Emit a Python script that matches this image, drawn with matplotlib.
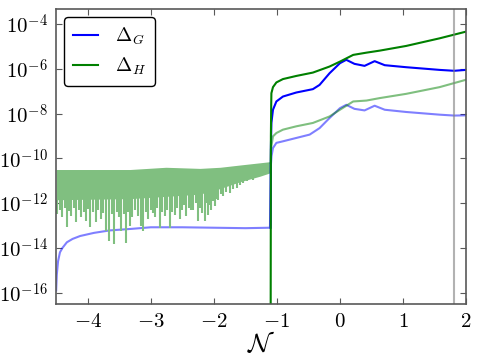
import numpy as np
import matplotlib
matplotlib.use('Agg')
import matplotlib.pyplot as plt
from matplotlib.ticker import FixedLocator, FuncFormatter, NullLocator

plt.rcParams['mathtext.fontset'] = 'cm'
plt.rcParams['font.family'] = 'serif'

# values, y given as log10
# Delta_G (dark blue), after the jump at N ~ -1.1
n_g = [-1.10, -1.095, -1.087, -1.062, -1.008, -0.904, -0.692, -0.429, -0.323, -0.165,
       0.0, 0.10, 0.23, 0.39, 0.55, 0.71, 1.05, 1.58, 1.81, 2.0]
log_g = [-13.1, -9.5, -8.42, -7.83, -7.46, -7.24, -7.06, -6.91, -6.72, -6.2,
         -5.75, -5.60, -5.78, -5.87, -5.66, -5.84, -5.93, -6.05, -6.09, -6.05]

# Delta_H (dark green)
n_h = [-1.10, -1.095, -1.090, -1.087, -1.062, -1.008, -0.904, -0.692, -0.429, -0.165,
       0.0, 0.21, 0.42, 0.63, 1.05, 1.58, 2.0]
log_h = [-20.0, -9.0, -7.6, -7.09, -6.82, -6.61, -6.46, -6.32, -6.17, -5.90,
         -5.68, -5.38, -5.28, -5.19, -4.98, -4.64, -4.34]

# faint blue curve over the whole range
n_g2 = [-4.50, -4.49, -4.47, -4.44, -4.40, -4.33, -4.24, -4.12, -3.90, -3.65, -3.30,
        -3.00, -2.50, -2.00, -1.50, -1.11, -1.095, -1.085, -1.062, -1.008, -0.904,
        -0.692, -0.48, -0.323, -0.165, 0.0, 0.10, 0.23, 0.39, 0.55, 0.71, 1.05,
        1.58, 1.81, 2.0]
log_g2 = [-15.9, -15.2, -14.6, -14.2, -14.0, -13.75, -13.6, -13.47, -13.33, -13.22, -13.15,
          -13.08, -13.08, -13.1, -13.12, -13.1, -10.3, -9.9, -9.54, -9.31, -9.24,
          -9.09, -8.94, -8.65, -8.2, -7.76, -7.61, -7.79, -7.86, -7.65, -7.83, -7.93,
          -8.05, -8.09, -8.08]

# faint green curve after the jump
n_h2 = [-1.10, -1.095, -1.062, -1.008, -0.904, -0.692, -0.429, -0.165,
        0.0, 0.21, 0.42, 0.63, 1.05, 1.58, 2.0]
log_h2 = [-10.2, -9.6, -9.02, -8.87, -8.72, -8.57, -8.42, -8.13,
          -7.83, -7.46, -7.42, -7.31, -7.12, -6.82, -6.49]

# faint green noisy part before the jump: band envelope and downward spikes
n_band = [-4.50, -3.33, -2.76, -2.22, -1.90, -1.59, -1.27, -1.11]
band_top = [-10.5, -10.5, -10.4, -10.45, -10.4, -10.3, -10.2, -10.15]
band_bot = [-11.85, -11.8, -11.7, -11.6, -11.35, -11.05, -10.8, -10.65]

n_spike = [-4.48, -4.44, -4.40, -4.36, -4.33, -4.29, -4.26, -4.22, -4.18, -4.14,
           -4.10, -4.06, -4.03, -4.00, -3.97, -3.92, -3.87, -3.83, -3.79, -3.75,
           -3.71, -3.66, -3.62, -3.58, -3.54, -3.50, -3.47, -3.43, -3.39, -3.36,
           -3.33, -3.29, -3.25, -3.20, -3.16, -3.12, -3.08, -3.04, -3.00, -2.97,
           -2.93, -2.90, -2.86, -2.82, -2.78, -2.74, -2.70, -2.66, -2.62, -2.58,
           -2.54, -2.50, -2.47, -2.44, -2.40, -2.36, -2.33, -2.29, -2.25, -2.22,
           -2.19, -2.14, -2.11, -2.09, -2.06, -2.04, -2.01, -1.98, -1.95, -1.93,
           -1.89, -1.85, -1.80, -1.75, -1.70, -1.64, -1.59, -1.54, -1.47, -1.38,
           -1.30, -1.22]
log_spike = [-12.5, -12.3, -12.64, -12.2, -13.09, -12.35, -12.58, -12.2, -12.86, -12.3,
             -12.64, -12.4, -12.81, -12.25, -13.09, -12.4, -12.86, -12.3, -12.73, -12.45,
             -13.25, -13.7, -12.5, -13.84, -12.4, -12.6, -13.25, -12.5, -13.77, -12.4,
             -13.03, -12.6, -12.3, -12.58, -13.03, -13.25, -12.4, -12.73, -12.3, -12.42,
             -12.6, -12.2, -13.10, -12.4, -12.58, -12.3, -13.10, -12.4, -12.51, -12.2,
             -12.73, -12.3, -12.1, -12.58, -12.2, -12.3, -12.29, -12.0, -12.81, -12.2,
             -12.42, -12.81, -12.0, -12.51, -12.1, -12.29, -11.9, -12.14, -11.8, -11.84,
             -11.6, -11.69, -11.5, -11.54, -11.35, -11.32, -11.2, -11.10, -11.0, -10.95,
             -10.85, -10.75]

n_mark = 1.81

pw = lambda v: 10.0 ** np.array(v)
faint_green = '#80bf80'

fig = plt.figure(figsize=(4.8, 3.6), dpi=100)
ax = fig.add_axes([0.117, 0.156, 0.854, 0.819])
ax.set_yscale('log')

ax.plot(n_g2, pw(log_g2), color='b', alpha=0.5, lw=1.5)
ax.fill_between(n_band, pw(band_bot), pw(band_top), color=faint_green, lw=0)
ax.vlines(n_spike, pw(log_spike), pw(np.interp(n_spike, n_band, band_bot)),
          color=faint_green, lw=1.5)
ax.plot(n_h2, pw(log_h2), color='g', alpha=0.5, lw=1.5)
ax.plot(n_g, pw(log_g), color='b', lw=1.5, label=r'$\Delta_G$')
ax.plot(n_h, pw(log_h), color='g', lw=1.5, label=r'$\Delta_H$')
ax.axvline(n_mark, color='0.5', alpha=0.6, lw=1.5)

ax.set_xlim(-4.5, 2.0)
ax.set_ylim(10 ** -16.5, 10 ** -3.33)

ax.xaxis.set_major_locator(FixedLocator([-4, -3, -2, -1, 0, 1, 2]))
ax.xaxis.set_major_formatter(FuncFormatter(lambda v, p: r'$%d$' % round(v)))
ax.yaxis.set_major_locator(FixedLocator([1e-16, 1e-14, 1e-12, 1e-10, 1e-8, 1e-6, 1e-4]))
ax.yaxis.set_minor_locator(NullLocator())
ax.yaxis.set_major_formatter(FuncFormatter(lambda v, p: r'$10^{%d}$' % round(np.log10(v))))
ax.tick_params(which='both', direction='in', top=True, right=True, length=4,
               color='0.35', labelsize=15, pad=6)
for s in ax.spines.values():
    s.set_color('0.35')
    s.set_linewidth(1.2)

ax.set_xlabel(r'$\mathcal{N}$', fontsize=19, labelpad=0)

leg = ax.legend(loc='upper left', fontsize=14, fancybox=True, framealpha=1,
                handlelength=1.3, handletextpad=0.9, borderpad=0.45,
                labelspacing=0.45, borderaxespad=0.4)
leg.get_frame().set_edgecolor('k')

fig.savefig('out.png', dpi=100)
